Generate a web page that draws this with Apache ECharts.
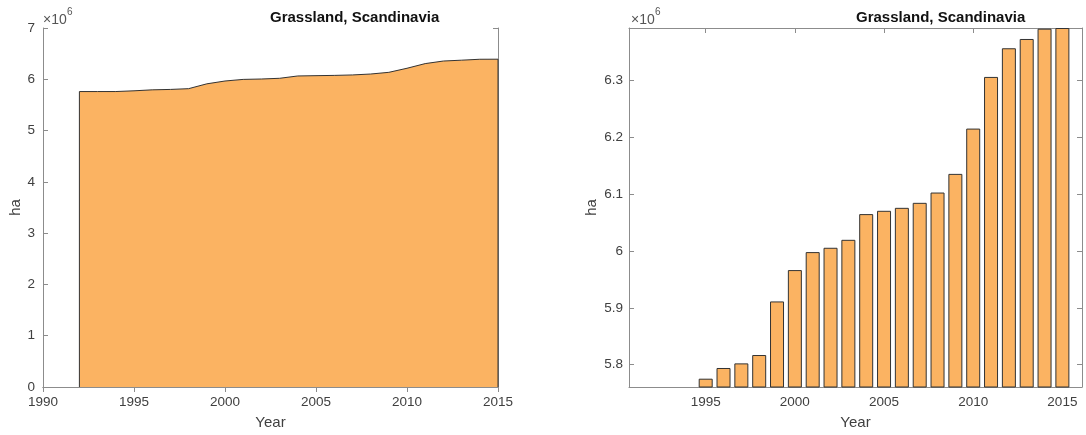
<!DOCTYPE html>
<html>
<head>
<meta charset="utf-8">
<script src="https://cdn.jsdelivr.net/npm/echarts@6/dist/echarts.min.js"></script>
<style>
  html, body { margin: 0; padding: 0; background: #fff; }
  #main { width: 1086px; height: 435px; }
</style>
</head>
<body>
<div id="main"></div>
<script>
// grassland area (ha)
const years = [1992, 1993, 1994, 1995, 1996, 1997, 1998, 1999, 2000, 2001, 2002, 2003,
  2004, 2005, 2006, 2007, 2008, 2009, 2010, 2011, 2012, 2013, 2014, 2015]
const grassland = [5760800, 5760800, 5761000, 5775400, 5794200, 5802300, 5817000, 5911200,
  5966300, 5997900, 6005500, 6019500, 6064700, 6070500, 6075700, 6084500, 6102600,
  6135400, 6215000, 6305800, 6356200, 6372500, 6390600, 6391800]
const rightYearTicks = [1995, 2000, 2005, 2010, 2015]
const rightValueTicks = [5800000, 5900000, 6000000, 6100000, 6200000, 6300000]

const chartTitle = 'Grassland, Scandinavia'
const fill = '#fbb362'
const edge = '#333333'
const axisGray = '#8c8c8c'
const labelColor = '#404040'
const font = 'Liberation Sans, Arial, sans-serif'

const pts = years.map((y, i) => [y, grassland[i]])
// closed outline like matlab's area edge
const outline = [[years[0], 0]].concat(pts, [[years[years.length - 1], 0]])

const toM = v => {
  const s = (v / 1e6).toFixed(1)
  return s.endsWith('.0') ? s.slice(0, -2) : s
}
const plainYear = v => String(Math.round(v))

const baseAxis = (extra) => Object.assign({
  axisLine: { show: true, lineStyle: { color: axisGray, width: 1 } },
  axisTick: { show: true, inside: true, length: 5, lineStyle: { color: axisGray } },
  axisLabel: { show: true, color: labelColor, fontSize: 13.5, fontFamily: font },
  splitLine: { show: false }
}, extra)

const boxAxis = (extra) => Object.assign({
  axisLine: { show: true, lineStyle: { color: axisGray, width: 1 } },
  axisTick: { show: true, inside: true, length: 5, lineStyle: { color: axisGray } },
  axisLabel: { show: false },
  splitLine: { show: false }
}, extra)

// ×10^6 exponent mark above an axis
const expMark = (x) => [
  { type: 'text', left: x, top: 13, style: { text: '×10', fill: '#555', font: '14px ' + font } },
  { type: 'text', left: x + 24, top: 7, style: { text: '6', fill: '#555', font: '10px ' + font } }
]

const chart = echarts.init(document.getElementById('main'))

const option = {
  animation: false,
  grid: [
    { left: 43, right: 588, top: 28, bottom: 48 },
    { left: 629, right: 4, top: 28, bottom: 48 }
  ],
  xAxis: [
    baseAxis({
      type: 'value', gridIndex: 0, min: 1990, max: 2015, interval: 5,
      axisLabel: { color: labelColor, fontSize: 13.5, fontFamily: font, margin: 8, formatter: plainYear },
      name: 'Year', nameLocation: 'middle', nameGap: 28,
      nameTextStyle: { color: labelColor, fontSize: 15, fontFamily: font }
    }),
    baseAxis({
      type: 'value', gridIndex: 1, min: 1990.7, max: 2016.1,
      axisTick: { show: true, inside: true, length: 5, lineStyle: { color: axisGray }, customValues: rightYearTicks },
      axisLabel: { color: labelColor, fontSize: 13.5, fontFamily: font, margin: 8, formatter: plainYear, customValues: rightYearTicks },
      name: 'Year', nameLocation: 'middle', nameGap: 28,
      nameTextStyle: { color: labelColor, fontSize: 15, fontFamily: font }
    }),
    boxAxis({ type: 'value', gridIndex: 0, position: 'top', min: 1990, max: 2015, interval: 5 }),
    boxAxis({
      type: 'value', gridIndex: 1, position: 'top', min: 1990.7, max: 2016.1,
      axisTick: { show: true, inside: true, length: 5, lineStyle: { color: axisGray }, customValues: rightYearTicks }
    })
  ],
  yAxis: [
    baseAxis({
      type: 'value', gridIndex: 0, min: 0, max: 7000000, interval: 1000000,
      axisLabel: { color: labelColor, fontSize: 13.5, fontFamily: font, margin: 8, formatter: toM },
      name: 'ha', nameLocation: 'middle', nameGap: 20, nameRotate: 90,
      nameTextStyle: { color: labelColor, fontSize: 15, fontFamily: font }
    }),
    baseAxis({
      type: 'value', gridIndex: 1, min: grassland[0], max: grassland[grassland.length - 1],
      axisTick: { show: true, inside: true, length: 5, lineStyle: { color: axisGray }, customValues: rightValueTicks },
      axisLabel: { color: labelColor, fontSize: 13.5, fontFamily: font, margin: 6, formatter: toM, customValues: rightValueTicks },
      name: 'ha', nameLocation: 'middle', nameGap: 30, nameRotate: 90,
      nameTextStyle: { color: labelColor, fontSize: 15, fontFamily: font }
    }),
    boxAxis({ type: 'value', gridIndex: 0, position: 'right', min: 0, max: 7000000, interval: 1000000 }),
    boxAxis({
      type: 'value', gridIndex: 1, position: 'right', min: grassland[0], max: grassland[grassland.length - 1],
      axisTick: { show: true, inside: true, length: 5, lineStyle: { color: axisGray }, customValues: rightValueTicks }
    })
  ],
  series: [
    {
      type: 'line', xAxisIndex: 0, yAxisIndex: 0, data: pts,
      showSymbol: false, lineStyle: { width: 0 },
      areaStyle: { color: fill, opacity: 1 }, z: 2
    },
    {
      type: 'line', xAxisIndex: 0, yAxisIndex: 0, data: outline,
      showSymbol: false, lineStyle: { color: edge, width: 1 }, z: 3
    },
    {
      type: 'bar', xAxisIndex: 1, yAxisIndex: 1, data: pts,
      barWidth: 14, clip: true,
      itemStyle: { color: fill, borderColor: edge, borderWidth: 1 }
    }
  ],
  graphic: [
    {
      type: 'text', left: 270, top: 10,
      style: { text: chartTitle, x: 0, y: 0, fill: '#111', font: 'bold 15px ' + font, align: 'center' }
    },
    {
      type: 'text', left: 856, top: 10,
      style: { text: chartTitle, x: 0, y: 0, fill: '#111', font: 'bold 15px ' + font, align: 'center' }
    }
  ].concat(expMark(43), expMark(631))
}

chart.setOption(option)
</script>
</body>
</html>
